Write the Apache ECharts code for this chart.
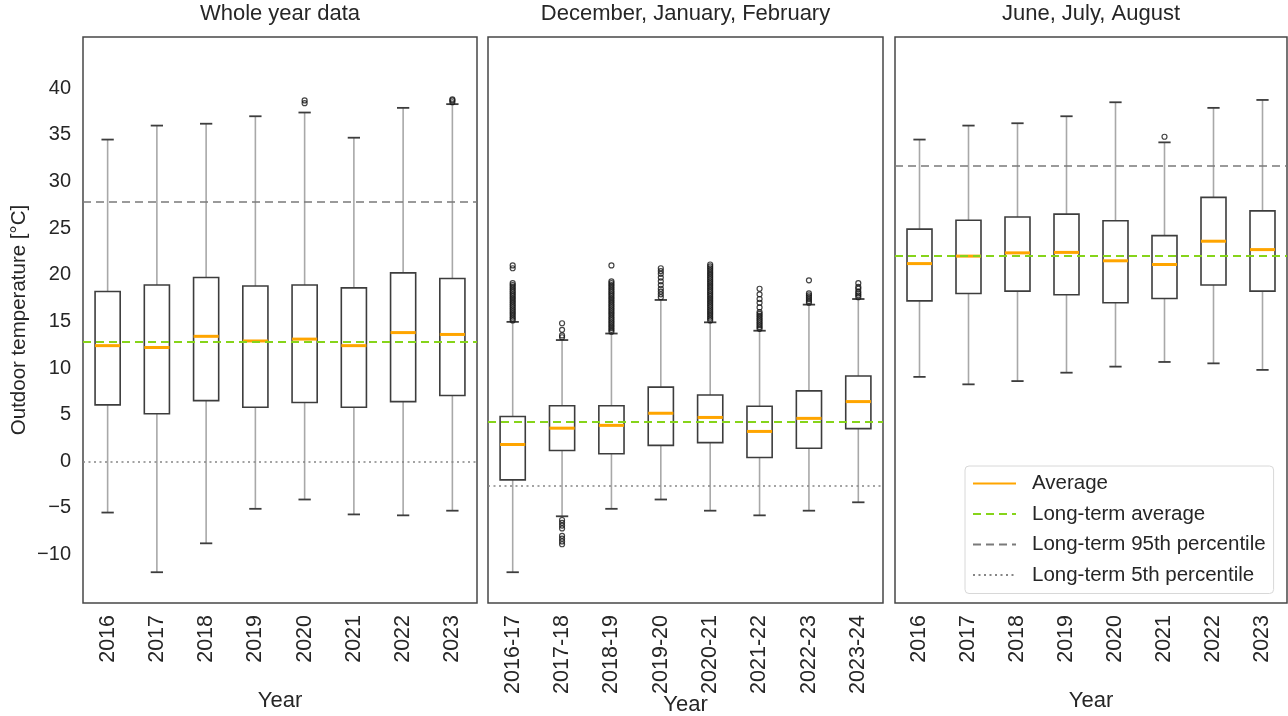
<!DOCTYPE html>
<html>
<head>
<meta charset="utf-8">
<script src="https://cdn.jsdelivr.net/npm/echarts@6/dist/echarts.min.js"></script>
<style>
  html, body { margin: 0; padding: 0; background: #ffffff; }
  #chart { width: 1288px; height: 716px; }
</style>
</head>
<body>
<div id="chart"></div>
<script>
// Category labels for the three panels
const yearLabels = ['2016', '2017', '2018', '2019', '2020', '2021', '2022', '2023'];
const winterLabels = ['2016-17', '2017-18', '2018-19', '2019-20', '2020-21', '2021-22', '2022-23', '2023-24'];
const summerLabels = ['2016', '2017', '2018', '2019', '2020', '2021', '2022', '2023'];

// Box statistics per category: [lower whisker, Q1, average, Q3, upper whisker]
const wholeYearStats = [
  [-5.5, 6.05, 12.4, 18.2, 34.5],
  [-11.9, 5.1, 12.2, 18.9, 36.0],
  [-8.8, 6.5, 13.4, 19.7, 36.2],
  [-5.1, 5.8, 12.9, 18.8, 37.0],
  [-4.1, 6.3, 13.1, 18.9, 37.4],
  [-5.7, 5.8, 12.4, 18.6, 34.7],
  [-5.8, 6.4, 13.8, 20.2, 37.9],
  [-5.3, 7.05, 13.6, 19.6, 38.3]
];
const winterStats = [
  [-11.9, -2.0, 1.8, 4.8, 14.95],
  [-5.9, 1.15, 3.55, 5.95, 13.0],
  [-5.1, 0.8, 3.85, 5.95, 13.7],
  [-4.1, 1.7, 5.15, 7.95, 17.3],
  [-5.3, 2.0, 4.7, 7.1, 14.9],
  [-5.8, 0.4, 3.2, 5.9, 14.0],
  [-5.3, 1.4, 4.6, 7.55, 16.8],
  [-4.4, 3.5, 6.4, 9.15, 17.4]
];
const summerStats = [
  [9.05, 17.2, 21.2, 24.9, 34.5],
  [8.25, 18.0, 22.0, 25.85, 36.0],
  [8.6, 18.25, 22.35, 26.2, 36.25],
  [9.5, 17.85, 22.4, 26.5, 37.0],
  [10.15, 17.0, 21.5, 25.8, 38.5],
  [10.65, 17.45, 21.1, 24.2, 34.2],
  [10.5, 18.9, 23.6, 28.3, 37.9],
  [9.8, 18.25, 22.7, 26.85, 38.75]
];

// Outlier values per category
const wholeYearOutliers = [[], [], [], [], [38.4, 38.7], [], [], [38.5, 38.7, 38.8]];
const winterOutliers = [
  [15.1, 15.3, 15.5, 15.7, 15.9, 16.1, 16.3, 16.5, 16.7, 16.9, 17.1, 17.3, 17.5, 17.7, 17.9, 18.1, 18.3, 18.5, 18.7, 18.9, 19.1, 20.7, 21.0],
  [13.3, 13.5, 14.1, 14.8, -6.3, -6.6, -6.9, -7.2, -8.0, -8.3, -8.6, -8.9],
  [13.9, 14.1, 14.3, 14.5, 14.7, 14.9, 15.1, 15.3, 15.5, 15.7, 15.9, 16.1, 16.3, 16.5, 16.7, 16.9, 17.1, 17.3, 17.5, 17.7, 17.9, 18.1, 18.3, 18.5, 18.7, 18.9, 19.1, 19.3, 21.0],
  [17.6, 17.9, 18.2, 18.5, 18.9, 19.3, 19.7, 20.1, 20.4, 20.7],
  [15.1, 15.3, 15.5, 15.7, 15.9, 16.1, 16.3, 16.5, 16.7, 16.9, 17.1, 17.3, 17.5, 17.7, 17.9, 18.1, 18.3, 18.5, 18.7, 18.9, 19.1, 19.3, 19.5, 19.7, 19.9, 20.1, 20.3, 20.5, 20.7, 20.9, 21.1],
  [14.2, 14.4, 14.6, 14.8, 15.0, 15.2, 15.4, 15.6, 15.8, 16.0, 16.5, 17.0, 17.4, 17.9, 18.5],
  [17.0, 17.2, 17.4, 17.6, 17.8, 18.0, 19.4],
  [17.6, 17.8, 18.0, 18.2, 18.5, 18.7, 19.1]
];
const summerOutliers = [[], [], [], [], [], [34.8], [], []];

// Long-term reference levels per panel (whole year, DJF, JJA)
const longTermAverage = [12.85, 4.2, 22.05];
const longTerm95th = [27.8, null, 31.7];
const longTerm5th = [-0.1, -2.6, null];

// Y tick labels
const yTicks = [-10, -5, 0, 5, 10, 15, 20, 25, 30, 35, 40];

const FONT = '"Liberation Sans", Arial, Helvetica, sans-serif';
const TEXT = '#262626';
const ORANGE = '#ffa500';
const GREEN = '#86d41a';
const GREY_DASH = '#7a7a7a';
const GREY_DOT = '#858585';

const panels = [
  { title: 'Whole year data', labels: yearLabels, stats: wholeYearStats, outliers: wholeYearOutliers, left: 83, width: 394, nameGap: 87 },
  { title: 'December, January, February', labels: winterLabels, stats: winterStats, outliers: winterOutliers, left: 488, width: 395, nameGap: 91 },
  { title: 'June, July, August', labels: summerLabels, stats: summerStats, outliers: summerOutliers, left: 895, width: 392, nameGap: 87 }
];

const TOP = 37, BOTTOM = 603;

function renderBox(params, api) {
  const x = api.value(0);
  const low = api.coord([x, api.value(1)]);
  const q1 = api.coord([x, api.value(2)]);
  const avg = api.coord([x, api.value(3)]);
  const q3 = api.coord([x, api.value(4)]);
  const high = api.coord([x, api.value(5)]);
  const band = api.size([1, 0])[0];
  const bw = band * 0.51;
  const cw = band * 0.25;
  const cx = low[0];
  const whisker = { stroke: '#a8a8a8', lineWidth: 1.6 };
  const cap = { stroke: '#3d3d3d', lineWidth: 1.8 };
  return {
    type: 'group',
    children: [
      { type: 'line', shape: { x1: cx, y1: q3[1], x2: cx, y2: high[1] }, style: whisker },
      { type: 'line', shape: { x1: cx, y1: q1[1], x2: cx, y2: low[1] }, style: whisker },
      { type: 'line', shape: { x1: cx - cw / 2, y1: high[1], x2: cx + cw / 2, y2: high[1] }, style: cap },
      { type: 'line', shape: { x1: cx - cw / 2, y1: low[1], x2: cx + cw / 2, y2: low[1] }, style: cap },
      { type: 'rect', shape: { x: cx - bw / 2, y: q3[1], width: bw, height: q1[1] - q3[1] },
        style: { fill: '#ffffff', stroke: '#3d3d3d', lineWidth: 1.6 } },
      { type: 'line', shape: { x1: cx - bw / 2, y1: avg[1], x2: cx + bw / 2, y2: avg[1] },
        style: { stroke: ORANGE, lineWidth: 3 } }
    ]
  };
}

const grid = [], xAxis = [], yAxis = [], title = [], series = [];

panels.forEach((p, k) => {
  grid.push({
    left: p.left, width: p.width, top: TOP, height: BOTTOM - TOP,
    containLabel: false, outerBoundsMode: 'none',
    show: true, borderColor: '#474747', borderWidth: 1.5, backgroundColor: '#ffffff'
  });
  title.push({
    text: p.title, left: p.left + p.width / 2, top: 3, textAlign: 'center', padding: 0,
    textStyle: { fontFamily: FONT, fontSize: 22, fontWeight: 'normal', color: TEXT }
  });
  xAxis.push({
    type: 'category', gridIndex: k, data: p.labels, boundaryGap: true,
    axisLine: { show: false }, axisTick: { show: false }, splitLine: { show: false },
    axisLabel: { rotate: 90, margin: 12, fontFamily: FONT, fontSize: 21.5, color: TEXT, interval: 0 },
    name: 'Year', nameLocation: 'middle', nameGap: p.nameGap, nameMoveOverlap: false,
    nameTextStyle: { fontFamily: FONT, fontSize: 22, color: TEXT }
  });
  yAxis.push({
    type: 'value', gridIndex: k, min: -15.2, max: 45.5,
    axisLine: { show: false }, axisTick: { show: false }, splitLine: { show: false },
    axisLabel: {
      show: k === 0, customValues: yTicks, margin: 12, fontFamily: FONT, fontSize: 20, color: TEXT,
      formatter: v => (v < 0 ? '\u2212' + Math.abs(v) : String(v))
    },
    name: k === 0 ? 'Outdoor temperature [°C]' : '',
    nameLocation: 'middle', nameGap: 53, nameMoveOverlap: false,
    nameTextStyle: { fontFamily: FONT, fontSize: 20.5, color: TEXT }
  });

  series.push({
    type: 'custom', name: 'box-' + k, xAxisIndex: k, yAxisIndex: k, z: 3,
    renderItem: renderBox, silent: true,
    encode: { x: 0, y: [1, 2, 3, 4, 5] },
    data: p.stats.map((s, i) => [i].concat(s))
  });

  series.push({
    type: 'scatter', name: 'outliers-' + k, xAxisIndex: k, yAxisIndex: k, z: 4, silent: true,
    symbol: 'circle', symbolSize: 5,
    itemStyle: { color: 'rgba(0,0,0,0)', borderColor: '#151515', borderWidth: 1.2 },
    data: p.outliers.flatMap((vals, i) => vals.map(v => [i, v]))
  });

  const refLine = (name, value, lineStyle) => {
    if (value === null) return;
    series.push({
      type: 'line', name: name, xAxisIndex: k, yAxisIndex: k, z: 5, data: [],
      symbol: 'none', symbolSize: 0, showSymbol: false,
      itemStyle: { color: lineStyle.color, opacity: 0 },
      lineStyle: lineStyle, silent: true,
      markLine: {
        silent: true, symbol: 'none', label: { show: false }, animation: false,
        lineStyle: lineStyle, data: [{ yAxis: value }]
      }
    });
  };
  refLine('Long-term average', longTermAverage[k], { color: GREEN, width: 2.2, type: [8, 5], opacity: 1 });
  refLine('Long-term 95th percentile', longTerm95th[k], { color: GREY_DASH, width: 1.6, type: [8, 5], opacity: 1 });
  refLine('Long-term 5th percentile', longTerm5th[k], { color: GREY_DOT, width: 1.6, type: [2, 3.5], opacity: 1 });
});

// Legend-only entry for the per-box average line
series.push({
  type: 'line', name: 'Average', xAxisIndex: 2, yAxisIndex: 2, data: [],
  symbol: 'none', symbolSize: 0, showSymbol: false,
  itemStyle: { color: ORANGE, opacity: 0 },
  lineStyle: { color: ORANGE, width: 2.5 }
});

const chart = echarts.init(document.getElementById('chart'), null, { renderer: 'canvas' });
chart.setOption({
  animation: false,
  backgroundColor: '#ffffff',
  textStyle: { fontFamily: FONT },
  title: title,
  grid: grid,
  xAxis: xAxis,
  yAxis: yAxis,
  legend: {
    data: ['Average', 'Long-term average', 'Long-term 95th percentile', 'Long-term 5th percentile'],
    orient: 'vertical', left: 965, top: 466,
    backgroundColor: '#ffffff', borderColor: '#d8d8d8', borderWidth: 1, borderRadius: 4,
    padding: [7, 8, 8, 7], itemGap: 9.5, itemWidth: 43, itemHeight: 20,
    selectedMode: false,
    itemStyle: { opacity: 0 },
    textStyle: { fontFamily: FONT, fontSize: 20.5, color: TEXT, padding: [0, 0, 0, 11] }
  },
  series: series
});
</script>
</body>
</html>
